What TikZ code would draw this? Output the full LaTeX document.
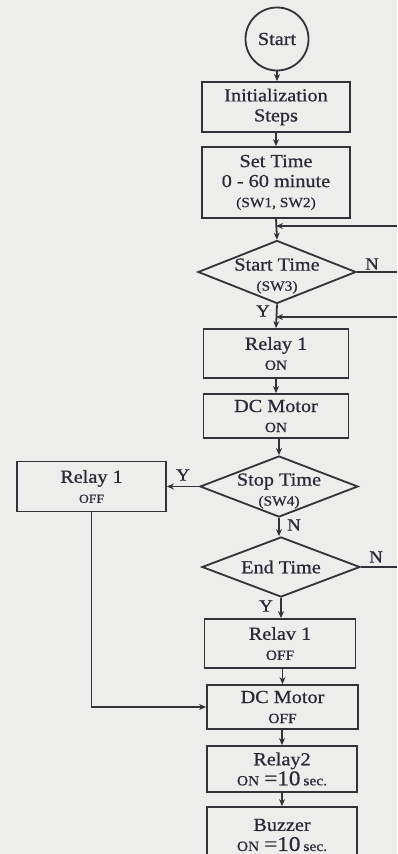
\documentclass[tikz,border=0pt]{standalone}
\usepackage{fontspec}
\setmainfont{Liberation Serif}[FakeStretch=1.1,FakeBold=0.7]
\usetikzlibrary{shapes.geometric,arrows.meta}
\definecolor{bg}{RGB}{237,237,235}
\definecolor{ink}{RGB}{50,50,56}
\definecolor{txt}{RGB}{42,42,55}
\newcommand\fmain{\fontsize{9.2}{10}\selectfont}
\newcommand\fsml{\fontsize{7}{8.5}\selectfont}
\newcommand\fsmlr{\fontsize{6.2}{8}\selectfont}
\newcommand\fbig{\fontsize{10.5}{10}\selectfont}
\tikzset{
  box/.style={draw=ink, line width=0.9pt, rectangle, inner sep=0pt, align=center, text=txt, font=\fmain},
  circ/.style={draw=ink, line width=0.9pt, circle, inner sep=0pt, minimum size=31.5pt, text=txt, font=\fmain},
  dia/.style={draw=ink, line width=0.9pt, diamond, inner sep=0pt},
  txtn/.style={inner sep=0pt, align=center, text=txt, font=\fmain},
  lbl/.style={inner sep=0pt, text=txt, font=\fontsize{8.5}{9}\selectfont},
  arr/.style={draw=ink, line width=0.9pt, -{Stealth[length=3.5pt,width=3pt]}},
  ln/.style={draw=ink, line width=0.9pt}
}
\begin{document}
\begin{tikzpicture}[x=0.5pt,y=-0.5pt]
\clip (0,0) rectangle (397,854);
\fill[bg] (0,0) rectangle (397,854);
% nodes
\node[circ] (start) at (277,39) {Start};
\node[box, minimum width=74pt, minimum height=25pt] (init) at (276,107) {Initialization\\Steps};
\node[box, minimum width=74pt, minimum height=35.5pt] (settime) at (276,182.5) {Set Time\\0 - 60 minute\\{\fsml (SW1, SW2)}};
\node[dia, minimum width=79pt, minimum height=31.5pt] (sdia) at (277,272) {};
\node[txtn] (sdiat) at (277,276) {Start Time\\{\fsml (SW3)}};
\node[box, minimum width=72.5pt, minimum height=24.5pt] (r1on) at (276,353.5) {Relay 1\\{\fsml ON}};
\node[box, minimum width=72.5pt, minimum height=22pt] (dcon) at (276,416) {DC Motor\\{\fsml ON}};
\node[dia, minimum width=79pt, minimum height=30.5pt] (stopd) at (279,486.5) {};
\node[txtn] (stopt) at (279,491) {Stop Time\\{\fsml (SW4)}};
\node[box, minimum width=74.5pt, minimum height=25pt] (r1offL) at (91.5,486.5) {Relay 1\\{\fsmlr OFF}};
\node[dia, minimum width=79pt, minimum height=30pt] (endd) at (281,567) {};
\node[txtn] (endt) at (281,567) {End Time};
\node[box, minimum width=75.5pt, minimum height=24.5pt] (r1off) at (280,643.5) {Relav 1\\{\fsml OFF}};
\node[box, minimum width=75.5pt, minimum height=22pt] (dcoff) at (282.5,707) {DC Motor\\{\fsml OFF}};
\node[box, minimum width=75pt, minimum height=23pt] (relay2) at (282,769) {Relay2\\{\fsml ON} {\fbig =10}\,{\fsml sec.}};
\node[box, minimum width=75pt, minimum height=28pt] (buzz) at (282,835) {Buzzer\\{\fsml ON} {\fbig =10}\,{\fsml sec.}};
% labels
\node[lbl] (nS) at (372,264) {N};
\node[lbl] (yS) at (263,311) {Y};
\node[lbl] (yStop) at (183,475) {Y};
\node[lbl] (nStop) at (294,525) {N};
\node[lbl] (nEnd) at (376,557) {N};
\node[lbl] (yEnd) at (266,606) {Y};
% free ends at the right edge
\coordinate (fbR) at (397,226);
\coordinate (nR1) at (397,272);
\coordinate (retR) at (397,317);
\coordinate (nR2) at (397,567);
% connectors
\draw[arr] (start.south) -- (start.south |- init.north);
\draw[arr] (init.south) -- (settime.north);
\draw[arr] (settime.south) -- (sdia.north);
\draw[arr] (fbR) -- (fbR -| settime.south);
\draw[ln] (sdia.east) -- (nR1);
\draw[arr] (sdia.south) -- (r1on.north);
\draw[arr] (retR) -- (retR -| r1on.north);
\draw[arr] (r1on.south) -- (dcon.north);
\draw[arr] (dcon.south -| stopd.north) -- (stopd.north);
\draw[arr] (stopd.west) -- (r1offL.east);
\draw[arr] (stopd.south) -- (stopd.south |- endd.north);
\draw[ln] (endd.east) -- (nR2);
\draw[arr] (endd.south) -- (endd.south |- r1off.north);
\draw[arr] (r1off.south -| dcoff.north) -- (dcoff.north);
\draw[arr] (dcoff.south -| relay2.north) -- (relay2.north);
\draw[arr] (relay2.south -| buzz.north) -- (buzz.north);
\draw[arr] (r1offL.south) |- (dcoff.west);
\end{tikzpicture}
\end{document}
